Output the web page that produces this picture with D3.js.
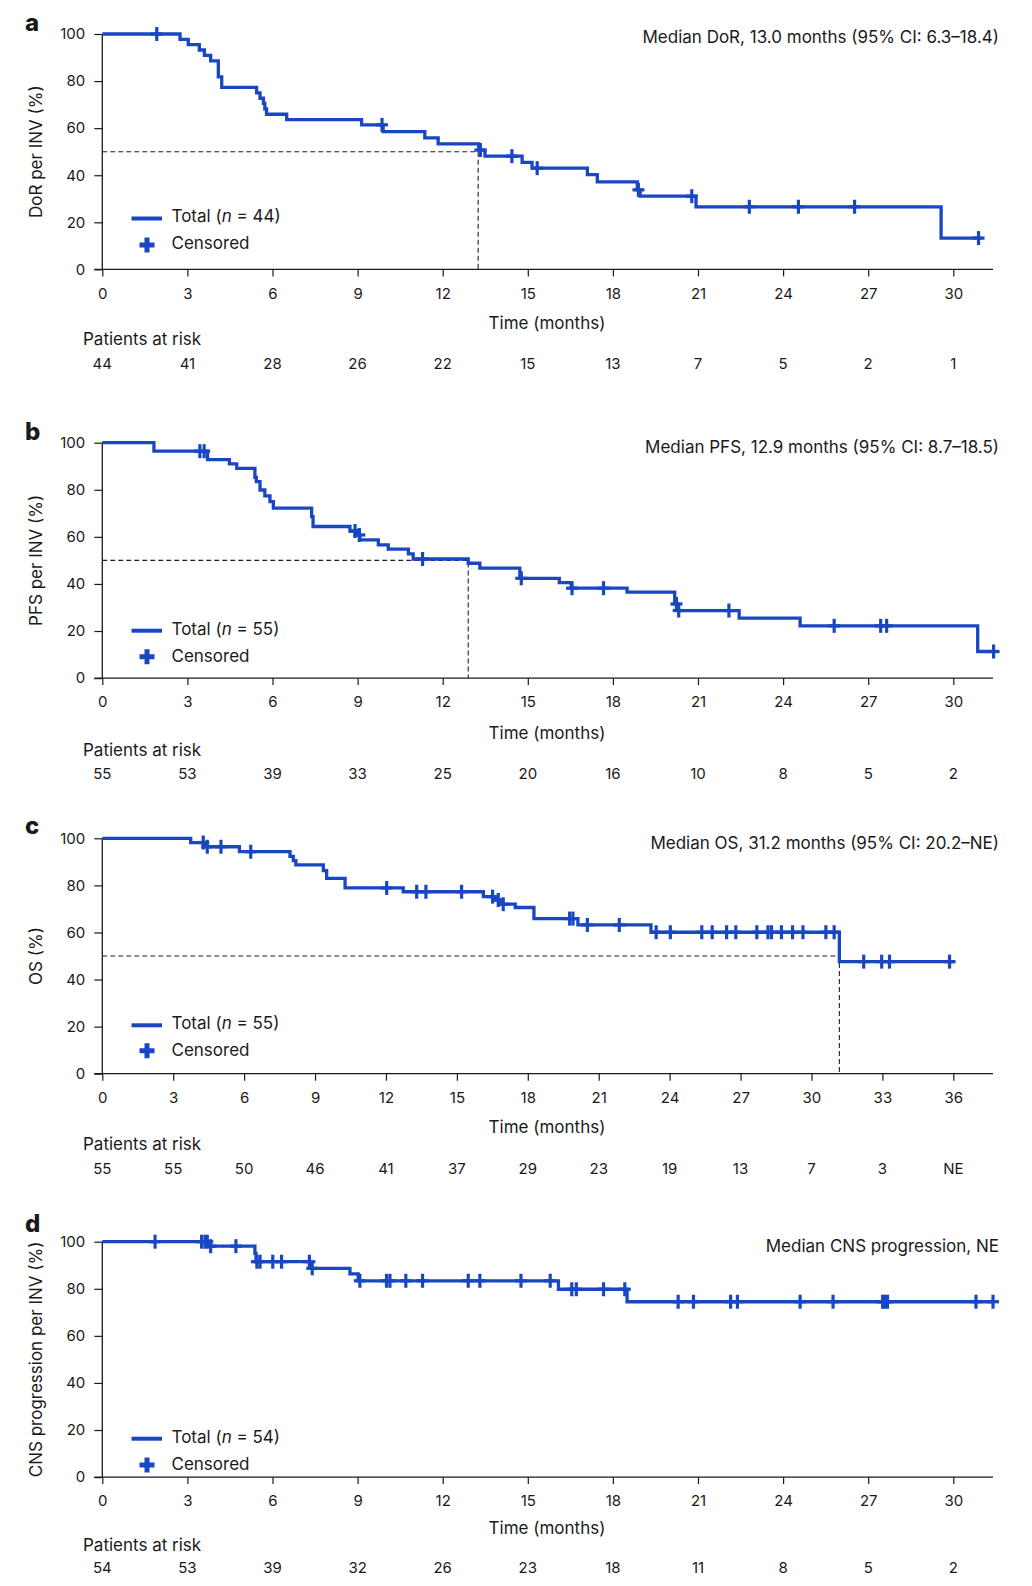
<!DOCTYPE html>
<html><head><meta charset="utf-8">
<script src="https://cdn.jsdelivr.net/npm/d3@7"></script>
<style>
body{margin:0;background:#fff;}
svg{display:block;font-family:Inter,"Noto Sans",sans-serif;}
</style></head><body>
<svg id="chart" width="1032" height="1586"></svg>
<script>
// ---------- DATA ----------
const ticksA = [0,3,6,9,12,15,18,21,24,27,30];
const ticksC = [0,3,6,9,12,15,18,21,24,27,30,33,36];
const yTicks = [0,20,40,60,80,100];

// Panel a: DoR
const aEventTimes = [2.74,3.03,3.42,3.60,3.82,4.09,4.21,5.44,5.56,5.68,5.73,5.79,6.50,9.14,9.90,11.37,11.84,13.27,13.49,14.80,15.15,17.10,17.45,18.86,18.96,20.93,29.57];
const aEventSurv  = [97.7,95.5,93.2,90.9,88.6,81.8,77.3,75.0,72.7,70.5,68.2,65.9,63.6,61.4,58.5,55.9,53.3,50.7,48.1,45.5,43.0,40.3,37.2,33.8,31.1,26.6,13.3];
const aCensorTimes = [1.92,9.86,13.33,14.44,15.33,18.90,20.78,22.81,24.54,26.52,30.89];
const aEndTime = 31.0;
const aMedianLine = 13.25;
const aRisk = [44,41,28,26,22,15,13,7,5,2,1];

// Panel b: PFS
const bEventTimes = [1.82,3.71,4.48,4.74,5.38,5.43,5.56,5.73,5.91,6.03,7.38,7.43,8.73,8.97,9.08,9.73,10.08,10.79,10.96,12.90,13.31,14.72,16.11,16.53,18.50,20.18,20.28,22.45,24.60,30.86];
const bEventSurv  = [96.4,92.8,91.0,89.1,85.3,83.5,79.9,77.4,75.0,72.2,68.6,64.4,62.5,60.8,58.7,56.6,54.8,52.8,50.6,48.8,46.7,42.4,40.6,38.2,36.5,31.5,28.7,25.5,22.2,11.3];
const bCensorTimes = [3.44,3.59,8.91,9.06,11.29,14.77,16.56,17.67,20.24,20.32,22.09,25.80,27.44,27.65,31.42];
const bEndTime = 31.5;
const bMedianLine = 12.90;
const bRisk = [55,53,39,33,25,20,16,10,8,5,2];

// Panel c: OS
const cEventTimes = [3.74,4.40,5.80,7.94,8.08,8.19,9.35,9.49,10.27,12.73,16.12,16.60,16.85,17.47,18.26,20.12,23.21,31.18];
const cEventSurv  = [98.2,96.4,94.3,92.3,90.5,88.7,86.3,83.0,78.9,77.3,75.2,73.8,72.0,70.6,65.9,63.2,60.1,47.6];
const cCensorTimes = [4.27,4.44,5.02,6.28,12.03,13.30,13.69,15.20,16.51,16.75,16.96,19.77,19.91,20.52,21.87,23.43,24.03,25.36,25.80,26.41,26.80,27.69,28.16,28.31,28.73,29.20,29.64,30.61,30.96,32.21,32.97,33.30,35.84];
const cEndTime = 36.06;
const cMedianLine = 31.18;
const cRisk = [55,55,50,46,41,37,29,23,19,13,7,3,"NE"];

// Panel d: CNS progression
const dEventTimes = [3.74,5.38,5.42,7.36,8.73,9.02,16.08,18.50];
const dEventSurv  = [98.1,95.0,91.5,88.7,86.3,83.4,79.8,74.5];
const dCensorTimes = [1.86,3.50,3.62,3.70,3.82,4.71,5.45,5.56,6.01,6.32,7.30,7.40,9.08,10.02,10.14,10.70,11.29,12.90,13.31,14.76,15.79,16.55,16.71,17.67,18.42,20.30,20.84,22.15,22.39,24.60,25.76,27.51,27.59,27.68,30.80,31.40];
const dEndTime = 31.45;
const dRisk = [54,53,39,32,26,23,18,11,8,5,2];

// ---------- LAYOUT ----------
const BLUE = "#1947c4";
const INK = "#1a1a1a";
const X0 = 102.3, XT = 953.3, XEND = 993, PH = 235.4;
const TXT = 17, NUM = 15;

const panels = [
  {id:"a", ticks:ticksA, times:aEventTimes, surv:aEventSurv, cens:aCensorTimes, end:aEndTime, med:aMedianLine, risk:aRisk,
   ytitle:"DoR per INV (%)", median:"Median DoR, 13.0 months (95% CI: 6.3–18.4)", n:44,
   L:{top:34, label:30.7, medT:43.3, legLine:218.5, legText:222.3, plus:245, cens:249, time:328.8, pat:344.5, risk:368.8}},
  {id:"b", ticks:ticksA, times:bEventTimes, surv:bEventSurv, cens:bCensorTimes, end:bEndTime, med:bMedianLine, risk:bRisk,
   ytitle:"PFS per INV (%)", median:"Median PFS, 12.9 months (95% CI: 8.7–18.5)", n:55,
   L:{top:442.7, label:440, medT:452.8, legLine:630.7, legText:635.3, plus:656.7, cens:662, time:739.3, pat:756.2, risk:778.8}},
  {id:"c", ticks:ticksC, times:cEventTimes, surv:cEventSurv, cens:cCensorTimes, end:cEndTime, med:cMedianLine, risk:cRisk,
   ytitle:"OS (%)", median:"Median OS, 31.2 months (95% CI: 20.2–NE)", n:55,
   L:{top:838.3, label:834, medT:849.3, legLine:1025.3, legText:1028.8, plus:1050.7, cens:1056.2, time:1132.7, pat:1149.5, risk:1173.8}},
  {id:"d", ticks:ticksA, times:dEventTimes, surv:dEventSurv, cens:dCensorTimes, end:dEndTime, med:null, risk:dRisk,
   ytitle:"CNS progression per INV (%)", median:"Median CNS progression, NE", n:54,
   L:{top:1241.7, label:1231.7, medT:1252, legLine:1438.7, legText:1442.8, plus:1465, cens:1470.2, time:1534.3, pat:1551.2, risk:1573.2}}
];

const FONT = "Inter,'Noto Sans',sans-serif";
const svg = d3.select("#chart");

function survAt(times, surv, t){
  let s = 100;
  for (let i=0;i<times.length;i++){ if (times[i] <= t) s = surv[i]; }
  return s;
}

panels.forEach(p => {
  const L = p.L;
  const tMax = p.ticks[p.ticks.length-1];
  const x = d3.scaleLinear().domain([0, tMax]).range([X0, XT]);
  const y = d3.scaleLinear().domain([0, 100]).range([L.top + PH, L.top]);
  const g = svg.append("g");

  // panel label
  g.append("text").attr("x", 25).attr("y", L.label).text(p.id)
    .attr("font-size", 24).attr("font-weight", 800).attr("fill", INK);

  // y axis
  const ya = g.append("g").attr("transform", `translate(${X0},0)`)
    .call(d3.axisLeft(y).tickValues(yTicks).tickSize(8).tickSizeOuter(0).tickPadding(9));
  ya.select(".domain").remove();
  ya.selectAll(".tick line").attr("stroke", INK).attr("stroke-width", 1.2);
  ya.selectAll(".tick text").attr("font-size", NUM).attr("fill", INK).attr("font-family", FONT);
  g.append("line").attr("x1", X0).attr("x2", X0).attr("y1", y(100)).attr("y2", y(0))
    .attr("stroke", INK).attr("stroke-width", 1.3);

  // x axis
  const xa = g.append("g").attr("transform", `translate(0,${y(0)})`)
    .call(d3.axisBottom(x).tickValues(p.ticks).tickSize(7).tickSizeOuter(0).tickPadding(11.5));
  xa.select(".domain").remove();
  xa.selectAll(".tick line").attr("stroke", INK).attr("stroke-width", 1.2);
  xa.selectAll(".tick text").attr("font-size", NUM).attr("fill", INK).attr("font-family", FONT);
  g.append("line").attr("x1", X0 - 8).attr("x2", XEND).attr("y1", y(0)).attr("y2", y(0))
    .attr("stroke", INK).attr("stroke-width", 1.3);

  // y title
  g.append("text").attr("transform", `translate(41.5,${L.top + PH/2}) rotate(-90)`)
    .attr("text-anchor", "middle").attr("font-size", TXT).attr("fill", INK).text(p.ytitle);

  // median dashed lines
  if (p.med !== null){
    g.append("path")
      .attr("d", `M${x(0)},${y(50)}H${x(p.med)}V${y(0)}`)
      .attr("fill", "none").attr("stroke", "#222").attr("stroke-width", 1.1).attr("stroke-dasharray", "5,3");
  }

  // KM step curve
  const pts = [[0,100]].concat(p.times.map((t,i)=>[t, p.surv[i]]));
  pts.push([p.end, p.surv[p.surv.length-1]]);
  const line = d3.line().x(d=>x(d[0])).y(d=>y(d[1])).curve(d3.curveStepAfter);
  g.append("path").datum(pts).attr("d", line)
    .attr("fill", "none").attr("stroke", BLUE).attr("stroke-width", 3.3).attr("stroke-linejoin", "miter");

  // censor marks
  const cg = g.append("g").attr("stroke", BLUE).attr("stroke-width", 3.2);
  p.cens.forEach(t => {
    const cx = x(t), cy = y(survAt(p.times, p.surv, t));
    cg.append("line").attr("x1", cx).attr("x2", cx).attr("y1", cy - 7).attr("y2", cy + 7);
    cg.append("line").attr("x1", cx - 6).attr("x2", cx + 6).attr("y1", cy).attr("y2", cy);
  });

  // median text
  g.append("text").attr("x", 999).attr("y", L.medT).attr("text-anchor", "end")
    .attr("font-size", TXT).attr("fill", INK).text(p.median);

  // legend
  g.append("line").attr("x1", 131.5).attr("x2", 162).attr("y1", L.legLine).attr("y2", L.legLine)
    .attr("stroke", BLUE).attr("stroke-width", 4);
  const lt = g.append("text").attr("x", 171.5).attr("y", L.legText).attr("font-size", TXT).attr("fill", INK);
  lt.append("tspan").text("Total (");
  lt.append("tspan").attr("font-style", "italic").text("n");
  lt.append("tspan").text(" = " + p.n + ")");
  g.append("path").attr("d", `M${147-7.5},${L.plus}H${147+7.5}M147,${L.plus-7.5}V${L.plus+7.5}`)
    .attr("stroke", BLUE).attr("stroke-width", 5);
  g.append("text").attr("x", 171.5).attr("y", L.cens).attr("font-size", TXT).attr("fill", INK).text("Censored");

  // axis title
  g.append("text").attr("x", 547).attr("y", L.time).attr("text-anchor", "middle")
    .attr("font-size", TXT).attr("fill", INK).text("Time (months)");

  // patients at risk
  g.append("text").attr("x", 83).attr("y", L.pat).attr("font-size", TXT).attr("fill", INK).text("Patients at risk");
  g.append("g").selectAll("text").data(p.risk).join("text")
    .attr("x", (d,i)=>x(p.ticks[i])).attr("y", L.risk).attr("text-anchor", "middle")
    .attr("font-size", NUM).attr("fill", INK).text(d=>d);
});
</script>
</body></html>
